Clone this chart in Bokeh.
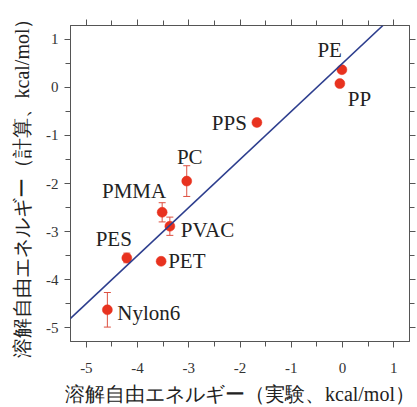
from bokeh.plotting import figure
from bokeh.models import (LinearAxis, SingleIntervalTicker, ColumnDataSource, Whisker,
                          TeeHead, Slope, Range1d, CustomJSTickFormatter)
from bokeh.core.properties import value
from bokeh.embed import file_html
from bokeh.resources import INLINE

# ---- data ----
polymers = ["PE", "PP", "PPS", "PC", "PMMA", "PVAC", "PES", "PET", "Nylon6"]
dg_exp = [-0.01, -0.05, -1.67, -3.04, -3.52, -3.37, -4.21, -3.54, -4.59]
dg_calc = [0.37, 0.08, -0.73, -1.95, -2.60, -2.89, -3.55, -3.62, -4.63]
dg_err = [0.0, 0.0, 0.07, 0.32, 0.20, 0.19, 0.10, 0.0, 0.36]
fit_gradient = 1.0
fit_intercept = 0.50
x_label = "溶解自由エネルギー（実験、kcal/mol）"
y_label = "溶解自由エネルギー（計算、kcal/mol）"

# ---- label placement (screen px) ----
label_align = ["right", "left", "right", "center", "right", "left", "right", "left", "left"]
label_dx = [0, 8, -10, 3, 4, 11, 5, 7, 10]
label_dy = [-20, 15, 0, -24, -21, 4, -19, 0, 3]

RED = "#e8321f"
BLUE = "#2d3e8e"
FRAME = "#555555"
SERIF = "Liberation Serif"

p = figure(width=417, height=407, output_backend="svg", toolbar_location=None,
           x_range=Range1d(-5.31, 1.31), y_range=Range1d(-5.29, 1.29),
           x_axis_location=None, y_axis_location=None,
           min_border_left=70, min_border_right=8, min_border_top=25, min_border_bottom=64)
p.grid.visible = False
p.outline_line_color = FRAME
p.outline_line_width = 1
p.background_fill_color = "white"
p.border_fill_color = "white"

plain_fmt = "return tick.toString();"


def make_axis(show_labels, standoff, **kw):
    ax = LinearAxis(ticker=SingleIntervalTicker(interval=1, num_minor_ticks=2), **kw)
    ax.axis_line_color = FRAME
    ax.major_tick_line_color = FRAME
    ax.minor_tick_line_color = FRAME
    ax.major_tick_in = 0
    ax.major_tick_out = 6
    ax.minor_tick_in = 0
    ax.minor_tick_out = 5
    if show_labels:
        ax.formatter = CustomJSTickFormatter(code=plain_fmt)
        ax.major_label_text_font = SERIF
        ax.major_label_text_font_size = "15px"
        ax.major_label_text_color = "#333333"
        ax.major_label_standoff = standoff
        ax.axis_label_text_font = SERIF
        ax.axis_label_text_font_size = "20px"
        ax.axis_label_text_font_style = "normal"
        ax.axis_label_text_color = "#222222"
    else:
        ax.major_label_text_font_size = "1px"
        ax.major_label_text_color = None
        ax.major_label_standoff = 0
    return ax


bottom = make_axis(True, 15, axis_label=x_label)
bottom.axis_label_standoff = 7
left = make_axis(True, 6, axis_label=y_label)
left.axis_label_standoff = 10
top = make_axis(False, 0)
right = make_axis(False, 0)
p.add_layout(bottom, "below")
p.add_layout(left, "left")
p.add_layout(top, "above")
p.add_layout(right, "right")

src = ColumnDataSource(dict(x=dg_exp, y=dg_calc, name=polymers, align=label_align,
                            dx=label_dx, dy=label_dy))

err_idx = [i for i, e in enumerate(dg_err) if e > 0]
err_src = ColumnDataSource(dict(
    x=[dg_exp[i] for i in err_idx],
    upper=[dg_calc[i] + dg_err[i] for i in err_idx],
    lower=[dg_calc[i] - dg_err[i] for i in err_idx],
))
whisk = Whisker(base="x", upper="upper", lower="lower", source=err_src, dimension="height",
                line_color="#dd5040", line_width=1,
                upper_head=TeeHead(size=7, line_color="#dd5040", line_width=1),
                lower_head=TeeHead(size=7, line_color="#dd5040", line_width=1))
p.add_layout(whisk)

p.scatter("x", "y", source=src, size=10, fill_color=RED, line_color=RED, line_width=0.5)

p.add_layout(Slope(gradient=fit_gradient, y_intercept=fit_intercept,
                   line_color=BLUE, line_width=1.6))

p.text("x", "y", text="name", source=src, text_align="align", text_baseline="alphabetic",
       x_offset="dx", y_offset="dy", text_font=value(SERIF), text_font_size="21px",
       text_color="#222222")

open("out.html", "w").write(file_html(p, INLINE))
